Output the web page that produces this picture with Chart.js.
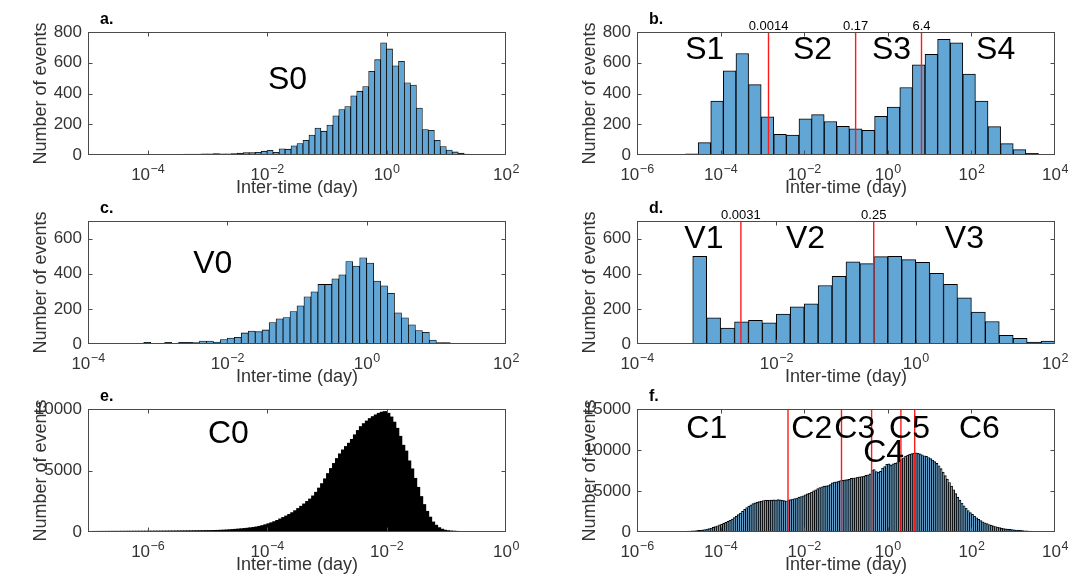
<!DOCTYPE html>
<html>
<head>
<meta charset="utf-8">
<script src="https://cdn.jsdelivr.net/npm/chart.js@4.4.0/dist/chart.umd.min.js"></script>
<style>
  html, body { margin: 0; padding: 0; background: #fff; }
  #page { position: relative; width: 1083px; height: 579px; overflow: hidden; }
  #page canvas { position: absolute; }
</style>
</head>
<body>
<div id="page"></div>
<script>
// All histograms use log10(inter-time in days) on x.
// Each one: left edge of the first bin, bin width, then the counts.

// a. S0
const binsS0 = { start: -4.7, width: 0.1 };
const countsS0 = [
  3, 3, 3, 3, 4, 4, 4, 4, 4, 5, 5, 5, 5, 6, 6, 6, 7, 8,
  10, 8, 8, 10, 12, 15, 15, 18, 25, 30, 18, 40, 38, 60, 75, 95, 130, 175, 155, 195,
  255, 295, 315, 385, 415, 445, 545, 620, 730, 690, 580, 610, 470, 455, 305, 165,
  160, 95, 55, 32, 20, 12, 6, 5, 4
];

// b. S1-S4
const binsS = { start: -5.14, width: 0.3015 };
const countsS = [
  2, 8, 80, 350, 548, 660, 458, 248, 135, 130, 235, 263, 218, 187, 170,
  161, 252, 311, 439, 587, 655, 752, 730, 526, 350, 185, 74, 35, 11, 3
];
const cutsS = [0.0014, 0.17, 6.4];
const cutLabelsS = ['0.0014', '0.17', '6.4'];
const regionNamesS = ['S1', 'S2', 'S3', 'S4'];

// c. V0
const binsV0 = { start: -3.2, width: 0.1 };
const countsV0 = [
  10, 4, 4, 10, 2, 10, 10, 8, 17, 17, 11, 25, 34, 38, 63, 74, 70, 80, 122, 143,
  150, 185, 217, 269, 297, 339, 339, 371, 394, 469, 444, 491, 461, 358, 331, 288,
  177, 149, 109, 76, 67, 23, 8, 8, 4
];

// d. V1-V3
const binsV = { start: -3.2, width: 0.2 };
const countsV = [
  499, 149, 90, 126, 135, 120, 170, 211, 229, 333, 385, 467, 457, 497, 499,
  480, 465, 402, 339, 263, 181, 128, 50, 32, 11, 17
];
const cutsV = [0.0031, 0.25];
const cutLabelsV = ['0.0031', '0.25'];
const regionNamesV = ['V1', 'V2', 'V3'];

// e. C0
const binsC0 = { start: -6.95, width: 0.05 };
const countsC0 = [
  20, 20, 22, 22, 24, 24, 25, 26, 27, 28,
  29, 30, 31, 32, 33, 34, 35, 36, 37, 38,
  40, 41, 42, 44, 45, 47, 49, 51, 53, 55,
  57, 60, 62, 65, 68, 71, 74, 77, 80, 84,
  90, 96, 103, 112, 122, 135, 150, 170, 190, 210,
  230, 255, 280, 310, 340, 380, 430, 490, 560, 640,
  720, 810, 910, 1030, 1150, 1270, 1400, 1540, 1700, 1880,
  2060, 2250, 2450, 2650, 2900, 3200, 3540, 3900, 4290, 4720,
  5130, 5540, 5940, 6320, 6640, 6920, 7190, 7500, 7870, 8220,
  8540, 8780, 8990, 9190, 9350, 9490, 9620, 9710, 9760, 9620,
  9320, 8900, 8400, 7750, 7020, 6550, 5750, 5100, 4330, 3600,
  2850, 2200, 1650, 1180, 780, 520, 320, 200, 120, 75,
  50, 35, 25, 15, 8
];

// f. C1-C6
const binsC = { start: -5.95, width: 0.05 };
const countsC = [
  60, 60, 62, 62, 64, 64, 66, 66, 68, 68,
  70, 70, 72, 72, 74, 75, 76, 78, 80, 82,
  85, 90, 95, 105, 115, 130, 145, 165, 190, 215,
  260, 310, 360, 420, 490, 570, 660, 760, 860, 960,
  1060, 1180, 1300, 1430, 1590, 1760, 1930, 2110, 2300, 2520,
  2750, 2980, 3150, 3300, 3460, 3560, 3640, 3700, 3760, 3840,
  3880, 3860, 3900, 3890, 3920, 3900, 3940, 3910, 3870, 3820,
  3780, 3900, 3940, 4020, 4080, 4150, 4260, 4330, 4420, 4540,
  4640, 4720, 4850, 5010, 5140, 5280, 5420, 5520, 5600, 5620,
  5660, 5780, 5990, 6080, 6120, 6200, 6270, 6300, 6350, 6380,
  6420, 6540, 6580, 6620, 6680, 6720, 6760, 6800, 6900, 6980,
  7080, 7560, 7620, 7380, 7300, 7400, 7780, 7980, 8260, 8300,
  8180, 8320, 8400, 8460, 8640, 8840, 9040, 9260, 9380, 9480,
  9560, 9620, 9660, 9600, 9520, 9420, 9300, 9220, 9080, 8950,
  8780, 8580, 8360, 8080, 7720, 7300, 6880, 6440, 6040, 5600,
  5150, 4680, 4250, 3880, 3530, 3200, 2900, 2620, 2360, 2140,
  1940, 1740, 1560, 1400, 1250, 1130, 1020, 920, 830, 750,
  670, 600, 530, 470, 420, 380, 345, 315, 290, 265,
  245, 220, 195, 170, 150, 135, 120, 105, 90, 75,
  60, 50, 40
];
const cutsC = [0.0041, 0.078, 0.41, 2.06, 4.4];
const regionNamesC = ['C1', 'C2', 'C3', 'C4', 'C5', 'C6'];

// axis ticks (x ticks are decade exponents)
const xTicksA = [-4, -2, 0, 2];
const xTicksB = [-6, -4, -2, 0, 2, 4];
const xTicksC = [-4, -2, 0, 2];
const xTicksE = [-6, -4, -2, 0];
const yTicks800 = [0, 200, 400, 600, 800];
const yTicks700 = [0, 200, 400, 600];
const yTicksE = [0, 5000, 10000];
const yTicksF = [0, 5000, 10000, 15000];

const FONT = "'Liberation Sans', Arial, Helvetica, sans-serif";
const BLUE = 'rgb(98, 166, 214)';
const TXT = '#333333';
const BOX = '#4a4a4a';

// plot box size and the margin each canvas keeps around it
const PLOT_W = 418, PLOT_H = 123;
const PAD_L = 70, PAD_R = 28, PAD_T = 32, PAD_B = 46;

const panels = [
  { letter: 'a.', left: 88, top: 32, bins: binsS0, counts: countsS0, xMin: -5, xMax: 2,
    xTicks: xTicksA, yMax: 800, yTicks: yTicks800, fill: BLUE, edge: 0.8,
    names: ['S0'], namesAt: [-1.66], namesDy: [56.5] },
  { letter: 'b.', left: 637, top: 32, bins: binsS, counts: countsS, xMin: -6, xMax: 4,
    xTicks: xTicksB, yMax: 800, yTicks: yTicks800, fill: BLUE, edge: 1,
    cuts: cutsS, cutLabels: cutLabelsS,
    names: regionNamesS, namesAt: [-4.38, -1.80, 0.09, 2.58], namesDy: [26.5, 26.5, 26.5, 26.5] },
  { letter: 'c.', left: 88, top: 221, bins: binsV0, counts: countsV0, xMin: -4, xMax: 2,
    xTicks: xTicksC, yMax: 700, yTicks: yTicks700, fill: BLUE, edge: 0.8,
    names: ['V0'], namesAt: [-2.21], namesDy: [52] },
  { letter: 'd.', left: 637, top: 221, bins: binsV, counts: countsV, xMin: -4, xMax: 2,
    xTicks: xTicksC, yMax: 700, yTicks: yTicks700, fill: BLUE, edge: 1,
    cuts: cutsV, cutLabels: cutLabelsV,
    names: regionNamesV, namesAt: [-3.04, -1.58, 0.70], namesDy: [26.5, 26.5, 26.5] },
  { letter: 'e.', left: 88, top: 409, bins: binsC0, counts: countsC0, xMin: -7, xMax: 0,
    xTicks: xTicksE, yMax: 10000, yTicks: yTicksE, fill: '#000000', edge: 0, inflate: 0.8,
    names: ['C0'], namesAt: [-4.65], namesDy: [33.5] },
  { letter: 'f.', left: 637, top: 409, bins: binsC, counts: countsC, xMin: -6, xMax: 4,
    xTicks: xTicksB, yMax: 15000, yTicks: yTicksF, fill: BLUE, edge: 0.9,
    cuts: cutsC,
    names: regionNamesC, namesAt: [-4.33, -1.82, -0.79, -0.10, 0.52, 2.19],
    namesDy: [28.5, 28.5, 28.5, 52.5, 28.5, 28.5] }
];

// red cut lines, region names, axes box with inward ticks, 10^n labels, panel letter
const decorate = {
  id: 'decorate',
  afterDatasetsDraw(chart) {
    const p = chart.config.options.plugins.decorate.panel;
    const { ctx, chartArea: a } = chart;
    const xs = chart.scales.x, ys = chart.scales.y;
    ctx.save();

    (p.cuts || []).forEach((c, i) => {
      const px = xs.getPixelForValue(Math.log10(c));
      ctx.strokeStyle = '#ff1a1a';
      ctx.lineWidth = 1.4;
      ctx.beginPath();
      ctx.moveTo(px, a.top);
      ctx.lineTo(px, a.bottom);
      ctx.stroke();
      if (p.cutLabels) {
        ctx.font = '13px ' + FONT;
        ctx.fillStyle = '#000';
        ctx.textAlign = 'center';
        ctx.textBaseline = 'alphabetic';
        ctx.fillText(p.cutLabels[i], px, a.top - 2);
      }
    });

    ctx.font = '32px ' + FONT;
    ctx.fillStyle = '#000';
    ctx.textAlign = 'center';
    ctx.textBaseline = 'alphabetic';
    p.names.forEach((n, i) => {
      ctx.fillText(n, xs.getPixelForValue(p.namesAt[i]), a.top + p.namesDy[i]);
    });

    const L = Math.round(a.left) + 0.5, R = Math.round(a.right) - 0.5;
    const T = Math.round(a.top) + 0.5, B = Math.round(a.bottom) - 0.5;
    ctx.strokeStyle = BOX;
    ctx.lineWidth = 1;
    ctx.strokeRect(L, T, R - L, B - T);
    ctx.beginPath();
    xs.ticks.forEach(t => {
      const px = Math.round(xs.getPixelForValue(t.value)) + 0.5;
      if (px <= L + 1 || px >= R - 1) return;
      ctx.moveTo(px, B); ctx.lineTo(px, B - 4);
      ctx.moveTo(px, T); ctx.lineTo(px, T + 4);
    });
    ys.ticks.forEach(t => {
      const py = Math.round(ys.getPixelForValue(t.value)) + 0.5;
      if (py <= T + 1 || py >= B - 1) return;
      ctx.moveTo(L, py); ctx.lineTo(L + 4, py);
      ctx.moveTo(R, py); ctx.lineTo(R - 4, py);
    });
    ctx.stroke();

    // decade labels: "10" with a raised exponent
    ctx.fillStyle = TXT;
    ctx.textAlign = 'left';
    xs.ticks.forEach(t => {
      const px = xs.getPixelForValue(t.value);
      const base = '10';
      const exp = String(t.value).replace('-', '\u2212');
      ctx.font = '17px ' + FONT;
      const wb = ctx.measureText(base).width;
      ctx.font = '12.5px ' + FONT;
      const we = ctx.measureText(exp).width;
      const x0 = px - (wb + we) / 2;
      ctx.font = '17px ' + FONT;
      ctx.fillText(base, x0, a.bottom + 25);
      ctx.font = '12.5px ' + FONT;
      ctx.fillText(exp, x0 + wb + 0.5, a.bottom + 17.5);
    });

    ctx.font = 'bold 16px ' + FONT;
    ctx.fillStyle = '#000';
    ctx.fillText(p.letter, a.left + 12, a.top - 8);
    ctx.restore();
  }
};

const page = document.getElementById('page');

panels.forEach(p => {
  const W = PAD_L + PLOT_W + PAD_R, H = PAD_T + PLOT_H + PAD_B;
  const cv = document.createElement('canvas');
  cv.width = W; cv.height = H;
  cv.style.left = (p.left - PAD_L) + 'px';
  cv.style.top = (p.top - PAD_T) + 'px';
  cv.style.width = W + 'px';
  cv.style.height = H + 'px';
  page.appendChild(cv);

  const points = p.counts.map((n, i) => ({
    x: +(p.bins.start + p.bins.width * (i + 0.5)).toFixed(5),
    y: n
  }));

  new Chart(cv, {
    type: 'bar',
    data: {
      datasets: [{
        data: points,
        backgroundColor: p.fill,
        borderColor: '#000000',
        borderWidth: p.edge,
        inflateAmount: p.inflate === undefined ? 'auto' : p.inflate,
        barPercentage: 1,
        categoryPercentage: 1
      }]
    },
    options: {
      responsive: false,
      animation: false,
      events: [],
      layout: { padding: { left: 0, top: PAD_T, right: PAD_R, bottom: 0 } },
      plugins: {
        legend: { display: false },
        tooltip: { enabled: false },
        decorate: { panel: p }
      },
      scales: {
        x: {
          type: 'linear',
          min: p.xMin, max: p.xMax,
          offset: false,
          grid: { display: false, drawTicks: false },
          border: { display: false },
          afterBuildTicks: s => { s.ticks = p.xTicks.map(v => ({ value: v })); },
          afterFit: s => { s.height = PAD_B; s.paddingLeft = 0; s.paddingRight = 0; },
          ticks: { display: false },
          title: {
            display: true, text: 'Inter-time (day)', color: TXT,
            font: { family: FONT, size: 18 }, padding: { top: 0, bottom: 2 }
          }
        },
        y: {
          min: 0, max: p.yMax,
          grid: { display: false, drawTicks: false },
          border: { display: false },
          afterBuildTicks: s => { s.ticks = p.yTicks.map(v => ({ value: v })); },
          afterFit: s => { s.width = PAD_L; s.paddingTop = 0; s.paddingBottom = 0; },
          ticks: {
            autoSkip: false, padding: 6,
            color: TXT, font: { family: FONT, size: 17 },
            callback: v => String(v)
          },
          title: {
            display: true, text: 'Number of events', color: TXT,
            font: { family: FONT, size: 18 }, padding: { top: 12, bottom: 0 }
          }
        }
      }
    },
    plugins: [decorate]
  });
});
</script>
</body>
</html>
